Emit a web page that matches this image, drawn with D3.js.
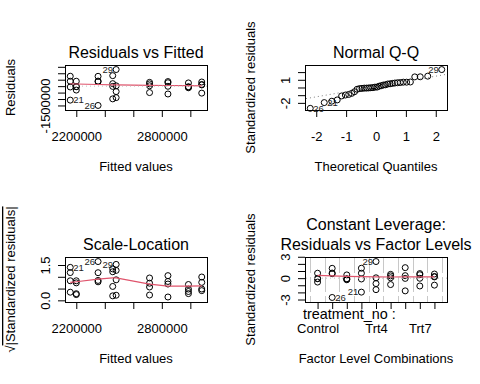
<!DOCTYPE html>
<html>
<head>
<meta charset="utf-8">
<script src="https://cdn.jsdelivr.net/npm/d3@7"></script>
<style>
body { margin: 0; background: #fff; }
svg { display: block; font-family: "Liberation Sans", Arial, Helvetica, sans-serif; }
</style>
</head>
<body>
<div id="chart"></div>
<script>
// lm(yield ~ treatment_no) diagnostics, 9 treatments x 4 plots

var levels = ["Control", "Trt1", "Trt2", "Trt3", "Trt4", "Trt5", "Trt6", "Trt7", "Trt8"];
var levelFitted = [2200000, 2352800, 2986600, 2157750, 2479600, 2714000, 2455600, 2843000, 3080000];

// one entry per plot, in row order 1..36
var obsTreatment = [
    "Control", "Trt1", "Trt2", "Trt3", "Trt4", "Trt5", "Trt6", "Trt7", "Trt8",
    "Control", "Trt1", "Trt2", "Trt3", "Trt4", "Trt5", "Trt6", "Trt7", "Trt8",
    "Control", "Trt2", "Trt3", "Trt4", "Trt5", "Trt6", "Trt7", "Trt1", "Trt8",
    "Control", "Trt4", "Trt1", "Trt2", "Trt3", "Trt5", "Trt6", "Trt7", "Trt8"
];
var obsResidual = [
    382000, 763000, 250000, 770000, 26000, 294000, 815000, 355000, 321000,
    -33000, 395000, -45000, 382000, -421000, 177000, 193000, 265000, 128000,
    -305000, -127000, -1086000, -894000, 28000, -20000, -11000, -1500000, 94000,
    -44000, 1289000, 342000, -78000, -66000, -499000, -988000, -609000, -543000
];

// red smoother, at the sorted fitted values / factor levels
var residSmooth = [184000, 168000, 129000, 106000, 98000, 67000, 51000, 35000, 27000];
var scaleSmooth = [0.76, 0.79, 0.9, 0.95, 0.95, 0.69, 0.6, 0.6, 0.61];
var levelSmooth = [0.38, 0.32, 0.25, 0.2, 0.18, 0.16, 0.17, 0.18, 0.19];

// axis ticks (empty label = tick without text, as R drops overlapping ones)
var fittedTicks = [2200000, 2400000, 2600000, 2800000, 3000000];
var fittedTickLabels = ["2200000", "", "", "2800000", ""];
var residTicks = [-1500000, -1000000, -500000, 0, 500000, 1000000, 1500000];
var residTickLabels = ["-1500000", "", "", "", "", "", ""];
var qqXTicks = [-2, -1, 0, 1, 2];
var qqXTickLabels = ["-2", "-1", "0", "1", "2"];
var qqYTicks = [-2, -1, 0, 1, 2];
var qqYTickLabels = ["-2", "", "", "1", ""];
var slTicks = [0, 0.5, 1, 1.5];
var slTickLabels = ["0.0", "", "", "1.5"];
var flTicks = [-3, -2, -1, 0, 1, 2, 3];
var flTickLabels = ["-3", "", "", "0", "", "", "3"];
var levelTickLabels = ["Control", "", "", "", "Trt4", "", "", "Trt7", ""];

var W = 480, H = 384, PW = 240, PH = 192;
var mar = {top: 65, right: 33, bottom: 82, left: 65};
var RED = "#DF536B";

var svg = d3.select("#chart").append("svg")
    .attr("width", W)
    .attr("height", H);

// inverse normal cdf (Acklam)
function qnorm(p) {
    var a = [-3.969683028665376e+01, 2.209460984245205e+02, -2.759285104469687e+02, 1.383577518672690e+02, -3.066479806614716e+01, 2.506628277459239e+00];
    var b = [-5.447609879822406e+01, 1.615858368580409e+02, -1.556989798598866e+02, 6.680131188771972e+01, -1.328068155288572e+01];
    var c = [-7.784894002430293e-03, -3.223964580411365e-01, -2.400758277161838e+00, -2.549732539343734e+00, 4.374664141464968e+00, 2.938163982698783e+00];
    var d = [7.784695709041462e-03, 3.224671290700398e-01, 2.445134137142996e+00, 3.754408661907416e+00];
    var q, r;
    if (p < 0.02425) {
        q = Math.sqrt(-2 * Math.log(p));
        return (((((c[0]*q+c[1])*q+c[2])*q+c[3])*q+c[4])*q+c[5]) / ((((d[0]*q+d[1])*q+d[2])*q+d[3])*q+1);
    }
    if (p > 1 - 0.02425) return -qnorm(1 - p);
    q = p - 0.5; r = q * q;
    return (((((a[0]*r+a[1])*r+a[2])*r+a[3])*r+a[4])*r+a[5])*q / (((((b[0]*r+b[1])*r+b[2])*r+b[3])*r+b[4])*r+1);
}

// R style quantile (type 7)
function quantile7(sorted, p) {
    var h = (sorted.length - 1) * p, lo = Math.floor(h);
    return sorted[lo] + (h - lo) * ((sorted[lo + 1] !== undefined ? sorted[lo + 1] : sorted[lo]) - sorted[lo]);
}

function extend(r, f) {
    var d = (r[1] - r[0]) * f;
    return [r[0] - d, r[1] + d];
}

// model quantities
var n = obsResidual.length, p = levels.length;
var sigma = Math.sqrt(d3.sum(obsResidual, function(r) { return r * r; }) / (n - p));
var hat = p / n;

var obs = obsResidual.map(function(r, i) {
    var lev = levels.indexOf(obsTreatment[i]);
    var s = r / (sigma * Math.sqrt(1 - hat));
    return {id: i + 1, level: lev, fit: levelFitted[lev], res: r, std: s, sq: Math.sqrt(Math.abs(s))};
});

var byStd = obs.slice().sort(function(a, b) { return a.std - b.std; });
byStd.forEach(function(o, k) { o.theo = qnorm((k + 1 - 0.5) / n); });

var idObs = obs.slice().sort(function(a, b) { return Math.abs(b.res) - Math.abs(a.res); }).slice(0, 3);
var sortedFitted = levelFitted.slice().sort(d3.ascending);

function makePanel(col, row, xlim, ylim) {
    var pn = {};
    pn.g = svg.append("g").attr("transform", "translate(" + col * PW + "," + row * PH + ")");
    pn.x = d3.scaleLinear().domain(extend(xlim, 0.04)).range([mar.left, PW - mar.right]);
    pn.y = d3.scaleLinear().domain(extend(ylim, 0.04)).range([PH - mar.bottom, mar.top]);
    return pn;
}

function drawFrame(pn, opt) {
    var g = pn.g, x0 = mar.left, x1 = PW - mar.right, y0 = mar.top, y1 = PH - mar.bottom;
    var cx = (x0 + x1) / 2, cy = (y0 + y1) / 2;

    g.append("rect")
        .attr("x", x0 + 0.5).attr("y", y0 + 0.5)
        .attr("width", x1 - x0).attr("height", y1 - y0)
        .attr("fill", "none").attr("stroke", "#000");

    var xAxis = d3.axisBottom(pn.x)
        .tickValues(opt.xTicks)
        .tickSize(7)
        .tickFormat(function(d, i) { return opt.xLabels[i]; });
    var gx = g.append("g").attr("transform", "translate(0," + y1 + ")").call(xAxis);
    gx.select(".domain").remove();
    gx.selectAll("text").attr("y", 30.7).attr("dy", null)
        .attr("font-size", 13).attr("font-family", null).attr("fill", "#000");

    var yAxis = d3.axisLeft(pn.y)
        .tickValues(opt.yTicks)
        .tickSize(7)
        .tickFormat(function(d, i) { return opt.yLabels[i]; });
    var gy = g.append("g").attr("transform", "translate(" + x0 + ",0)").call(yAxis);
    gy.select(".domain").remove();
    gy.selectAll("text").attr("x", 0).attr("dy", null)
        .attr("transform", "translate(-15,0) rotate(-90)")
        .attr("text-anchor", "middle")
        .attr("font-size", 13).attr("font-family", null).attr("fill", "#000");
    g.selectAll(".tick line").attr("stroke", "#000");

    opt.title.slice().reverse().forEach(function(t, i) {
        g.append("text")
            .attr("x", cx).attr("y", 58 - 20 * i)
            .attr("text-anchor", "middle").attr("font-size", 16)
            .text(t);
    });

    g.append("text")
        .attr("x", cx).attr("y", 171)
        .attr("text-anchor", "middle").attr("font-size", 13)
        .text(opt.xlab);

    var yl = g.append("text")
        .attr("transform", "translate(15," + cy + ") rotate(-90)")
        .attr("text-anchor", "middle").attr("font-size", 13);
    if (opt.sqrtLab) {
        yl.append("tspan").text("\u221A");
        yl.append("tspan").style("text-decoration", "overline").text(opt.ylab);
    } else {
        yl.text(opt.ylab);
    }
}

function drawPoints(pn, data, fx, fy) {
    pn.g.append("g").selectAll("circle")
        .data(data)
        .enter()
        .append("circle")
        .attr("cx", function(d) { return pn.x(fx(d)); })
        .attr("cy", function(d) { return pn.y(fy(d)); })
        .attr("r", 3)
        .attr("fill", "none")
        .attr("stroke", "#000")
        .attr("stroke-width", 1);
}

function drawSmooth(pn, xs, ys) {
    var line = d3.line()
        .x(function(d) { return pn.x(d[0]); })
        .y(function(d) { return pn.y(d[1]); });
    pn.g.append("path")
        .attr("d", line(d3.zip(xs, ys)))
        .attr("fill", "none").attr("stroke", RED).attr("stroke-width", 1.2);
}

function hLine(pn, v, color) {
    pn.g.append("line")
        .attr("x1", mar.left + 1).attr("x2", PW - mar.right)
        .attr("y1", pn.y(v)).attr("y2", pn.y(v))
        .attr("stroke", color).attr("stroke-dasharray", "1,3");
}

function drawIds(pn, fx, fy) {
    var xs = idObs.map(fx);
    var mid = d3.mean(d3.extent(xs));
    pn.g.append("g").selectAll("text")
        .data(idObs)
        .enter()
        .append("text")
        .attr("x", function(d) { return pn.x(fx(d)) + (fx(d) > mid ? -3 : 3); })
        .attr("y", function(d) { return pn.y(fy(d)); })
        .attr("dy", "0.35em")
        .attr("text-anchor", function(d) { return fx(d) > mid ? "end" : "start"; })
        .attr("font-size", 9.5)
        .attr("fill", "#222")
        .text(function(d) { return d.id; });
}

// 1. Residuals vs Fitted
var p1 = makePanel(0, 0, d3.extent(levelFitted), extend(d3.extent(obsResidual), 0.08));
drawFrame(p1, {xTicks: fittedTicks, xLabels: fittedTickLabels, yTicks: residTicks, yLabels: residTickLabels,
    title: ["Residuals vs Fitted"], xlab: "Fitted values", ylab: "Residuals"});
drawPoints(p1, obs, function(d) { return d.fit; }, function(d) { return d.res; });
drawSmooth(p1, sortedFitted, residSmooth);
hLine(p1, 0, "#BEBEBE");
drawIds(p1, function(d) { return d.fit; }, function(d) { return d.res; });

// 2. Normal Q-Q
var stdSorted = byStd.map(function(d) { return d.std; });
var qqY = d3.extent(stdSorted);
qqY[1] += (qqY[1] - qqY[0]) * 0.075;
var p2 = makePanel(1, 0, d3.extent(byStd, function(d) { return d.theo; }), qqY);
drawFrame(p2, {xTicks: qqXTicks, xLabels: qqXTickLabels, yTicks: qqYTicks, yLabels: qqYTickLabels,
    title: ["Normal Q-Q"], xlab: "Theoretical Quantiles", ylab: "Standardized residuals"});
drawPoints(p2, byStd, function(d) { return d.theo; }, function(d) { return d.std; });
var qy1 = quantile7(stdSorted, 0.25), qy3 = quantile7(stdSorted, 0.75);
var qx1 = qnorm(0.25), qx3 = qnorm(0.75);
var slope = (qy3 - qy1) / (qx3 - qx1), icpt = qy1 - slope * qx1;
var xd = p2.x.domain();
p2.g.append("line")
    .attr("x1", p2.x(xd[0]) + 1).attr("y1", p2.y(icpt + slope * xd[0]))
    .attr("x2", p2.x(xd[1])).attr("y2", p2.y(icpt + slope * xd[1]))
    .attr("stroke", "#7F7F7F").attr("stroke-dasharray", "1,3");
drawIds(p2, function(d) { return d.theo; }, function(d) { return d.std; });

// 3. Scale-Location
var slY = [0, d3.max(obs, function(d) { return d.sq; })];
slY[1] += slY[1] * 0.075;
var p3 = makePanel(0, 1, d3.extent(levelFitted), slY);
drawFrame(p3, {xTicks: fittedTicks, xLabels: fittedTickLabels, yTicks: slTicks, yLabels: slTickLabels,
    title: ["Scale-Location"], xlab: "Fitted values", ylab: "|Standardized residuals|", sqrtLab: true});
drawPoints(p3, obs, function(d) { return d.fit; }, function(d) { return d.sq; });
drawSmooth(p3, sortedFitted, scaleSmooth);
drawIds(p3, function(d) { return d.fit; }, function(d) { return d.sq; });

// 4. Constant leverage: residuals vs factor levels
var p4 = makePanel(1, 1, [-0.5, levels.length - 0.5], extend(d3.extent(obs, function(d) { return d.std; }), 0.08));
var levIdx = levels.map(function(d, i) { return i; });
p4.g.append("g").selectAll("line")
    .data(d3.range(-0.5, levels.length, 1))
    .enter()
    .append("line")
    .attr("x1", function(d) { return Math.round(p4.x(d)) + 0.5; })
    .attr("x2", function(d) { return Math.round(p4.x(d)) + 0.5; })
    .attr("y1", mar.top + 1).attr("y2", PH - mar.bottom)
    .attr("stroke", "#C8C8C8").attr("stroke-dasharray", "15,4");
drawFrame(p4, {xTicks: levIdx, xLabels: levelTickLabels, yTicks: flTicks, yLabels: flTickLabels,
    title: ["Constant Leverage:", "Residuals vs Factor Levels"], xlab: "Factor Level Combinations",
    ylab: "Standardized residuals"});
drawPoints(p4, obs, function(d) { return d.level; }, function(d) { return d.std; });
drawSmooth(p4, levIdx, levelSmooth);
hLine(p4, 0, "#BEBEBE");
drawIds(p4, function(d) { return d.level; }, function(d) { return d.std; });
p4.g.append("text")
    .attr("x", 63).attr("y", 127)
    .attr("font-size", 14.4)
    .text("treatment_no :");
</script>
</body>
</html>
